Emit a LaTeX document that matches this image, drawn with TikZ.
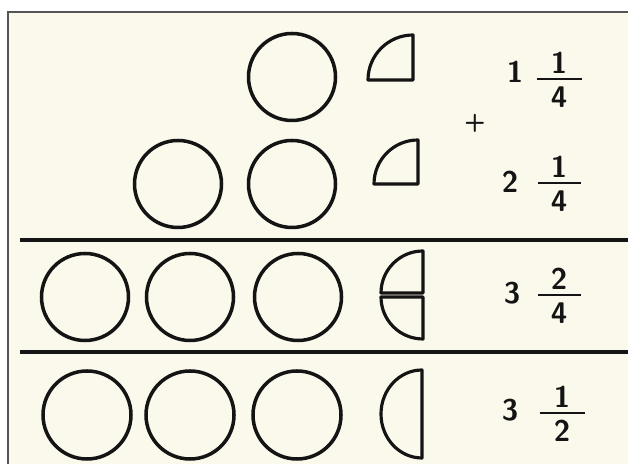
\documentclass[tikz,border=0pt]{standalone}
\usepackage{tikz}
\usetikzlibrary{positioning}

\definecolor{paper}{HTML}{FBF9EB}
\definecolor{ink}{HTML}{141414}
\definecolor{frame}{HTML}{555555}

\begin{document}
\begin{tikzpicture}[
    ring/.style={ink, line width=2pt},
    piece/.style={ink, line width=1.8pt, line join=round},
    rule/.style={ink, line width=2.2pt},
    bar/.style={ink, line width=1.5pt},
    num/.style={inner sep=0pt, font=\sffamily\bfseries\fontsize{17}{20}\selectfont, text=ink}
  ]
    \useasboundingbox (0,0) rectangle (12.56,9.28);
    \fill[white] (0,0) rectangle (12.56,9.28);
    \fill[paper] (0.16,0) rectangle (12.56,9.04);
    \draw[frame, line width=1pt] (0.16,0) -- (0.16,9.04) -- (12.56,9.04);

    % whole ones
    \draw[ring] (5.84,7.74) circle (0.87);
    \foreach \x in {3.56,5.84}
        \draw[ring] (\x,5.60) circle (0.87);
    \foreach \x in {1.70,3.80,5.96}
        \draw[ring] (\x,3.34) circle (0.87);
    \foreach \x in {1.74,3.80,5.94}
        \draw[ring] (\x,0.98) circle (0.88);

    % separating lines
    \draw[rule] (0.40,4.48) -- (12.56,4.48);
    \draw[rule] (0.40,2.24) -- (12.56,2.24);

    % quarters and halves
    \draw[piece] (8.26,7.68) -- (7.36,7.68) arc[start angle=180, end angle=90, radius=0.90] -- cycle;
    \draw[piece] (8.36,5.60) -- (7.48,5.60) arc[start angle=180, end angle=90, radius=0.88] -- cycle;
    \draw[piece] (8.46,3.42) -- (7.62,3.42) arc[start angle=180, end angle=90, radius=0.84] -- cycle;
    \draw[piece] (8.46,3.34) -- (7.62,3.34) arc[start angle=180, end angle=270, radius=0.84] -- cycle;
    \draw[piece] (8.44,1.88) arc[start angle=90, end angle=270, x radius=0.82, y radius=0.88] -- cycle;

    % numbers
    \node[num, font=\sffamily\bfseries\fontsize{14}{16}\selectfont] (plus) at (9.50,6.82) {+};

    \node[num] (w1) at (10.30,7.84) {1};
    \coordinate (b1) at (11.18,7.70);
    \draw[bar] ([xshift=-0.45cm]b1) -- ([xshift=0.45cm]b1);
    \node[num, above=3pt of b1] (n1) {1};
    \node[num, below=4pt of b1] (d1) {4};

    \node[num] (w2) at (10.20,5.64) {2};
    \coordinate (b2) at (11.18,5.62);
    \draw[bar] ([xshift=-0.43cm]b2) -- ([xshift=0.43cm]b2);
    \node[num, above=3pt of b2] (n2) {1};
    \node[num, below=4pt of b2] (d2) {4};

    \node[num] (w3) at (10.24,3.42) {3};
    \coordinate (b3) at (11.18,3.38);
    \draw[bar] ([xshift=-0.43cm]b3) -- ([xshift=0.43cm]b3);
    \node[num, above=3pt of b3] (n3) {2};
    \node[num, below=4pt of b3] (d3) {4};

    \node[num] (w4) at (10.20,1.08) {3};
    \coordinate (b4) at (11.24,1.02);
    \draw[bar] ([xshift=-0.45cm]b4) -- ([xshift=0.45cm]b4);
    \node[num, above=3pt of b4] (n4) {1};
    \node[num, below=4pt of b4] (d4) {2};
\end{tikzpicture}
\end{document}
